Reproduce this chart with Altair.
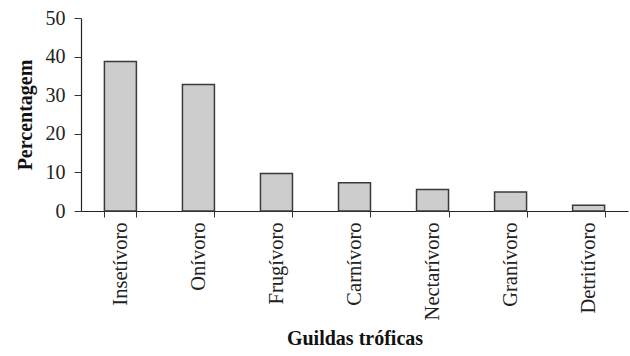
import altair as alt
import pandas as pd

categorias = ["Insetívoro", "Onívoro", "Frugívoro", "Carnívoro", "Nectarívoro", "Granívoro", "Detritívoro"]
percentagem = [38.7, 32.8, 9.7, 7.3, 5.6, 4.9, 1.5]

df = pd.DataFrame({"guilda": categorias, "pct": percentagem})

FONT = "Liberation Serif"

chart = alt.Chart(df).mark_bar(
    fill="#cdcdcd", stroke="#3a3a3a", strokeWidth=1.5
).encode(
    x=alt.X("guilda:N", sort=categorias, title="Guildas tróficas",
            scale=alt.Scale(paddingInner=0.59, paddingOuter=0.3),
            axis=alt.Axis(labelAngle=-90, labelAlign="right", labelBaseline="middle",
                          labelFontSize=20.5, labelFont=FONT, labelColor="#222",
                          titleFont=FONT, titleFontSize=20, titleFontWeight="bold",
                          titleColor="#111", titlePadding=9,
                          tickBand="extent", tickSize=6, tickColor="#333",
                          domainColor="#222", domainWidth=1.2, labelPadding=5)),
    y=alt.Y("pct:Q", title="Percentagem",
            scale=alt.Scale(domain=[0, 50], nice=False),
            axis=alt.Axis(values=[0, 10, 20, 30, 40, 50], grid=False,
                          labelFontSize=20, labelFont=FONT, labelColor="#222",
                          titleFont=FONT, titleFontSize=20, titleFontWeight="bold",
                          titleColor="#111", titlePadding=10,
                          tickSize=7, tickColor="#333", domainColor="#222",
                          domainWidth=1.2, labelPadding=9)),
).properties(
    width=547, height=193,
    autosize=alt.AutoSizeParams(type="none"),
    padding={"left": 81, "top": 18, "right": 2, "bottom": 145},
).configure_view(stroke=None)

chart.save("out.html", embed_options={"renderer": "svg", "actions": False})
